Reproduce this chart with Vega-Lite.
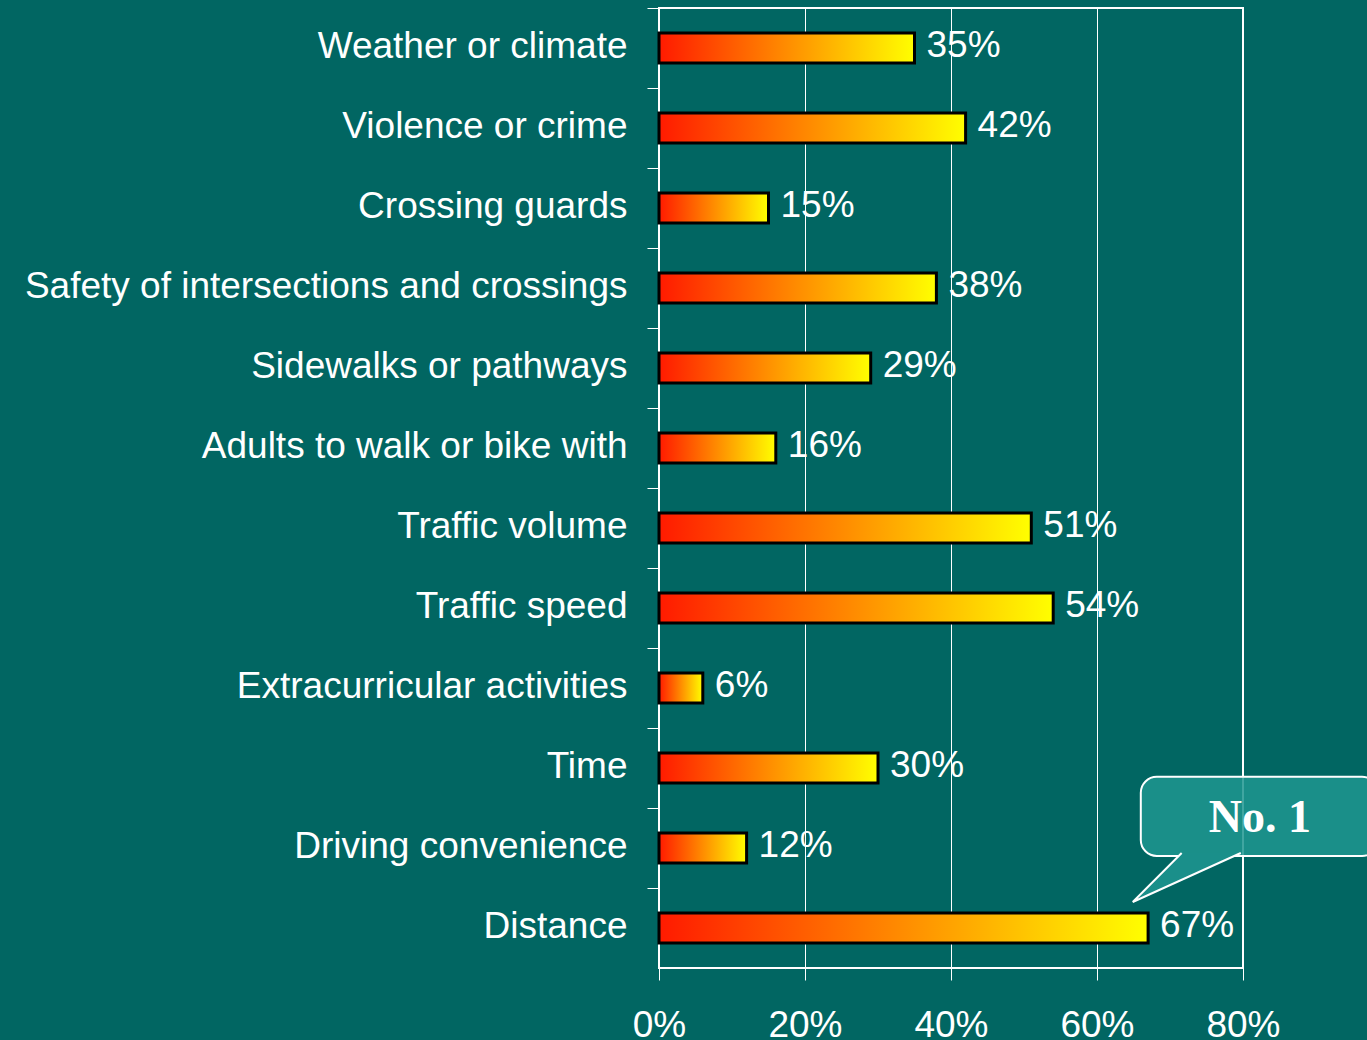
{
  "$schema": "https://vega.github.io/schema/vega-lite/v6.json",
  "width": 584,
  "height": 960,
  "autosize": {"type": "none"},
  "padding": {"left": 659, "top": 8, "right": 124, "bottom": 72},
  "background": "#016662",
  "config": {
    "view": {"stroke": "white", "strokeWidth": 2},
    "axis": {
      "labelFont": "Liberation Sans",
      "labelFontSize": 37,
      "labelColor": "white",
      "domain": false,
      "tickColor": "white",
      "tickSize": 12,
      "tickWidth": 1,
      "title": null
    }
  },
  "datasets": {
    "bars": [
      {"reason": "Weather or climate", "pct": 35, "label": "35%"},
      {"reason": "Violence or crime", "pct": 42, "label": "42%"},
      {"reason": "Crossing guards", "pct": 15, "label": "15%"},
      {"reason": "Safety of intersections and crossings", "pct": 38, "label": "38%"},
      {"reason": "Sidewalks or pathways", "pct": 29, "label": "29%"},
      {"reason": "Adults to walk or bike with", "pct": 16, "label": "16%"},
      {"reason": "Traffic volume", "pct": 51, "label": "51%"},
      {"reason": "Traffic speed", "pct": 54, "label": "54%"},
      {"reason": "Extracurricular activities", "pct": 6, "label": "6%"},
      {"reason": "Time", "pct": 30, "label": "30%"},
      {"reason": "Driving convenience", "pct": 12, "label": "12%"},
      {"reason": "Distance", "pct": 67, "label": "67%"}
    ],
    "callout": [
      {"pct": 66, "pct2": 98.5, "row": 9.61, "row2": 10.6}
    ],
    "tail": [
      {"pct": 71.6, "row": 10.5625, "o": 1},
      {"pct": 64.9, "row": 11.175, "o": 2},
      {"pct": 79.7, "row": 10.5625, "o": 3}
    ],
    "calloutText": [
      {"pct": 82.3, "row": 10.125, "t": "No. 1"}
    ]
  },
  "encoding": {
    "x": {
      "field": "pct",
      "type": "quantitative",
      "scale": {"domain": [0, 80], "nice": false, "zero": true},
      "axis": {
        "values": [0, 20, 40, 60, 80],
        "labelExpr": "datum.value + '%'",
        "grid": true,
        "gridColor": "white",
        "gridWidth": 1,
        "labelPadding": 27,
        "labelFlush": false
      }
    }
  },
  "layer": [
    {
      "data": {"name": "bars"},
      "encoding": {
        "y": {
          "field": "reason",
          "type": "nominal",
          "sort": null,
          "scale": {"paddingInner": 0.625, "paddingOuter": 0.3125},
          "axis": {"tickOffset": -40, "labelOffset": 38, "labelPadding": 20, "labelLimit": 800, "grid": false}
        }
      },
      "layer": [
        {
          "mark": {
            "type": "bar",
            "color": {
              "gradient": "linear",
              "x1": 0, "x2": 1, "y1": 0, "y2": 0,
              "stops": [
                {"offset": 0, "color": "#ff1a00"},
                {"offset": 1, "color": "#ffff00"}
              ]
            },
            "stroke": "black",
            "strokeWidth": 3
          }
        },
        {
          "mark": {
            "type": "text",
            "align": "left",
            "baseline": "middle",
            "dx": 12,
            "dy": -2,
            "font": "Liberation Sans",
            "fontSize": 37,
            "color": "white"
          },
          "encoding": {"text": {"field": "label"}}
        }
      ]
    },
    {
      "encoding": {
        "y": {
          "field": "row",
          "type": "quantitative",
          "scale": {"domain": [0, 12], "reverse": true, "nice": false, "zero": false},
          "axis": null
        }
      },
      "layer": [
        {
          "data": {"name": "callout"},
          "mark": {
            "type": "rect",
            "fill": "#1f9690",
            "fillOpacity": 0.85,
            "stroke": "white",
            "strokeWidth": 2,
            "cornerRadius": 16
          },
          "encoding": {"x2": {"field": "pct2"}, "y2": {"field": "row2"}}
        },
        {
          "data": {"name": "tail"},
          "mark": {
            "type": "line",
            "fill": "#1a8f8a",
            "stroke": "white",
            "strokeWidth": 2
          },
          "encoding": {"order": {"field": "o", "type": "quantitative"}}
        },
        {
          "data": {"name": "calloutText"},
          "mark": {
            "type": "text",
            "align": "center",
            "baseline": "middle",
            "font": "Liberation Serif",
            "fontWeight": "bold",
            "fontSize": 46,
            "color": "white"
          },
          "encoding": {"text": {"field": "t"}}
        }
      ]
    }
  ],
  "resolve": {"scale": {"y": "independent"}, "axis": {"y": "independent"}}
}
